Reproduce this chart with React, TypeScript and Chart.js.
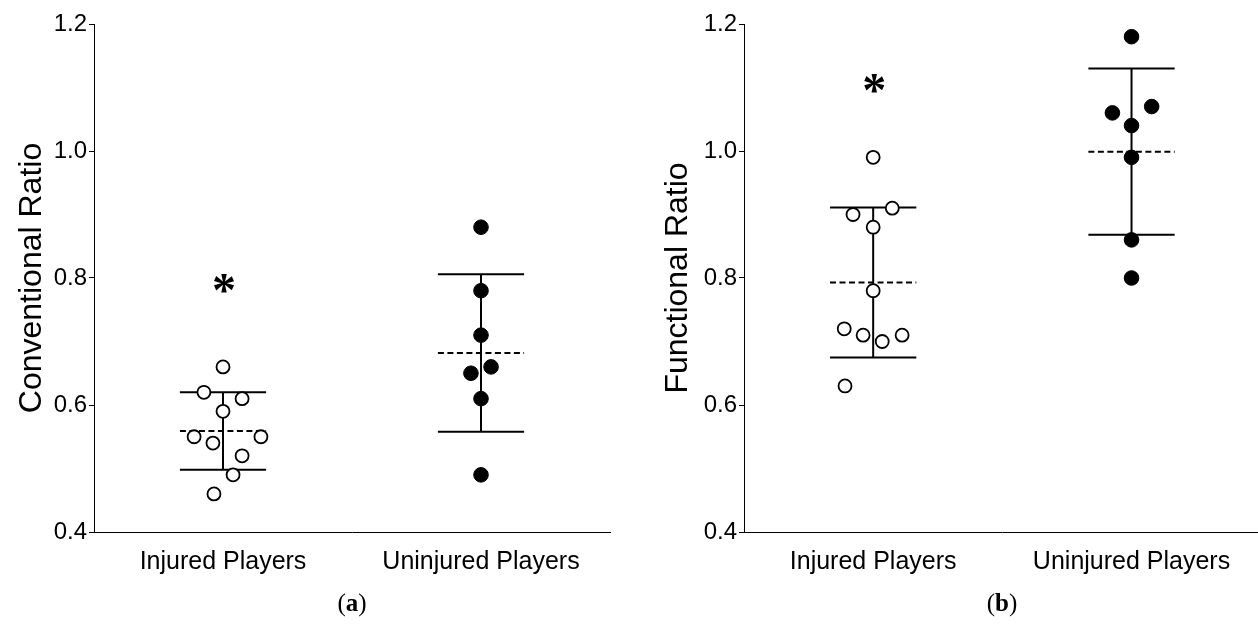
import React, { useEffect, useRef } from "react";
import { Chart, registerables } from "chart.js";

Chart.register(...registerables);

// ---------- data ----------
const categories = ["Injured Players", "Uninjured Players"];
const yTickValues = [0.4, 0.6, 0.8, 1.0, 1.2];

// (a) Conventional Ratio
const convInjured = [0.66, 0.62, 0.61, 0.59, 0.55, 0.55, 0.54, 0.52, 0.49, 0.46];
const convInjuredJitter = [0, -0.074, 0.074, 0, -0.112, 0.147, -0.039, 0.074, 0.039, -0.035];
const convUninjured = [0.88, 0.78, 0.71, 0.66, 0.65, 0.61, 0.49];
const convUninjuredJitter = [0, 0, 0, 0.039, -0.039, 0, 0];
const convMean = [0.559, 0.682];
const convSD = [0.061, 0.124];
const convStar = [{ x: 1, y: 0.792 }];

// (b) Functional Ratio
const funcInjured = [0.99, 0.91, 0.9, 0.88, 0.78, 0.72, 0.71, 0.7, 0.71, 0.63];
const funcInjuredJitter = [0, 0.074, -0.078, 0, 0, -0.112, -0.039, 0.035, 0.112, -0.109];
const funcUninjured = [1.18, 1.07, 1.06, 1.04, 0.99, 0.86, 0.8];
const funcUninjuredJitter = [0, 0.078, -0.074, 0, 0, 0, 0];
const funcMean = [0.793, 0.999];
const funcSD = [0.118, 0.131];
const funcStar = [{ x: 1, y: 1.107 }];

// ---------- style ----------
const SANS = '"Liberation Sans", Arial, sans-serif';
const SERIF = '"Liberation Serif", "Times New Roman", serif';
const BAR_HALF = 0.167;

const starPlugin = {
  id: "starMarks",
  afterDatasetsDraw(chart: any, _args: any, opts: any) {
    const { ctx, scales } = chart;
    const marks = (opts && opts.marks) || [];
    ctx.save();
    ctx.font = `bold 48px ${SERIF}`;
    ctx.textAlign = "center";
    ctx.textBaseline = "alphabetic";
    ctx.fillStyle = "#000";
    const m = ctx.measureText("*");
    const asc = m.actualBoundingBoxAscent;
    const desc = m.actualBoundingBoxDescent;
    marks.forEach((mk: any) => {
      const px = scales.x.getPixelForValue(mk.x);
      const py = scales.y.getPixelForValue(mk.y);
      ctx.fillText("*", px + 1, py + (asc - desc) / 2);
    });
    ctx.restore();
  },
};

type PanelProps = {
  left: number;
  width: number;
  yAxisWidth: number;
  rightPad: number;
  titlePad: number;
  yTitle: string;
  injured: number[];
  injuredJitter: number[];
  uninjured: number[];
  uninjuredJitter: number[];
  mean: number[];
  sd: number[];
  stars: { x: number; y: number }[];
};

function Panel(p: PanelProps) {
  const ref = useRef<HTMLCanvasElement | null>(null);
  useEffect(() => {
    if (!ref.current) return;
    const lineDs = (data: { x: number; y: number }[], dash: number[] = []) => ({
      type: "scatter" as const,
      data,
      showLine: true,
      borderColor: "#000",
      borderWidth: 2,
      borderDash: dash,
      pointRadius: 0,
      pointHoverRadius: 0,
      fill: false,
      tension: 0,
      order: 1,
    });
    const datasets: any[] = [
      {
        type: "scatter",
        data: p.injured.map((v, i) => ({ x: 1 + p.injuredJitter[i], y: v })),
        showLine: false,
        pointRadius: 6.5,
        pointBackgroundColor: "#fff",
        pointBorderColor: "#000",
        pointBorderWidth: 1.8,
        order: 0,
      },
      {
        type: "scatter",
        data: p.uninjured.map((v, i) => ({ x: 2 + p.uninjuredJitter[i], y: v })),
        showLine: false,
        pointRadius: 7.3,
        pointBackgroundColor: "#000",
        pointBorderColor: "#000",
        pointBorderWidth: 1,
        order: 0,
      },
    ];
    [0, 1].forEach((g) => {
      const cx = g + 1;
      const m = p.mean[g];
      const s = p.sd[g];
      datasets.push(lineDs([{ x: cx, y: m - s }, { x: cx, y: m + s }]));
      datasets.push(lineDs([{ x: cx - BAR_HALF, y: m + s }, { x: cx + BAR_HALF, y: m + s }]));
      datasets.push(lineDs([{ x: cx - BAR_HALF, y: m - s }, { x: cx + BAR_HALF, y: m - s }]));
      datasets.push(lineDs([{ x: cx - BAR_HALF, y: m }, { x: cx + BAR_HALF, y: m }], [6, 3.5]));
    });

    const chart = new Chart(ref.current, {
      type: "scatter",
      data: { datasets },
      plugins: [starPlugin as any],
      options: {
        responsive: false,
        animation: false,
        devicePixelRatio: 1,
        layout: { padding: { top: 24, right: p.rightPad, left: 0, bottom: 0 } },
        plugins: {
          legend: { display: false },
          tooltip: { enabled: false },
          starMarks: { marks: p.stars },
        } as any,
        scales: {
          x: {
            type: "linear",
            min: 0.5,
            max: 2.5,
            afterBuildTicks: (s: any) => {
              s.ticks = categories.map((_, i) => ({ value: i + 1 }));
            },
            ticks: {
              callback: (v: any) => categories[Math.round(Number(v)) - 1] ?? "",
              font: { family: SANS, size: 25 },
              color: "#000",
              padding: 15,
              maxRotation: 0,
              autoSkip: false,
            },
            grid: { drawOnChartArea: false, drawTicks: false },
            border: { display: true, color: "#000", width: 1 },
            afterFit: (s: any) => {
              s.height = 98;
            },
          },
          y: {
            type: "linear",
            min: 0.4,
            max: 1.2,
            afterBuildTicks: (s: any) => {
              s.ticks = yTickValues.map((v) => ({ value: v }));
            },
            ticks: {
              callback: (v: any) => Number(v).toFixed(1),
              font: { family: SANS, size: 24 },
              color: "#000",
              padding: 2,
            },
            grid: { drawOnChartArea: false, drawTicks: true, tickLength: 5, color: "#000" },
            border: { display: true, color: "#000", width: 1 },
            title: {
              display: true,
              text: p.yTitle,
              font: { family: SANS, size: 32 },
              color: "#000",
              padding: { top: p.titlePad, bottom: 0 },
            },
            afterFit: (s: any) => {
              s.width = p.yAxisWidth;
            },
          },
        },
      } as any,
    });
    return () => chart.destroy();
  }, []);
  return (
    <canvas
      ref={ref}
      width={p.width}
      height={630}
      style={{ position: "absolute", left: p.left, top: 0, width: p.width, height: 630 }}
    />
  );
}

const captionStyle = (cx: number): React.CSSProperties => ({
  position: "absolute",
  left: cx - 50,
  top: 587,
  width: 100,
  textAlign: "center",
  fontFamily: SERIF,
  fontSize: 25,
  lineHeight: "32px",
  color: "#000",
});

export default function App() {
  return (
    <div style={{ position: "absolute", left: 0, top: 0, width: 1258, height: 630, background: "#fff", overflow: "hidden" }}>
      <Panel
        left={0}
        width={629}
        yAxisWidth={94}
        rightPad={19}
        titlePad={13}
        yTitle="Conventional Ratio"
        injured={convInjured}
        injuredJitter={convInjuredJitter}
        uninjured={convUninjured}
        uninjuredJitter={convUninjuredJitter}
        mean={convMean}
        sd={convSD}
        stars={convStar}
      />
      <Panel
        left={629}
        width={640}
        yAxisWidth={115}
        rightPad={0}
        titlePad={30}
        yTitle="Functional Ratio"
        injured={funcInjured}
        injuredJitter={funcInjuredJitter}
        uninjured={funcUninjured}
        uninjuredJitter={funcUninjuredJitter}
        mean={funcMean}
        sd={funcSD}
        stars={funcStar}
      />
      <div style={captionStyle(352)}>
        (<b>a</b>)
      </div>
      <div style={captionStyle(1002)}>
        (<b>b</b>)
      </div>
    </div>
  );
}
